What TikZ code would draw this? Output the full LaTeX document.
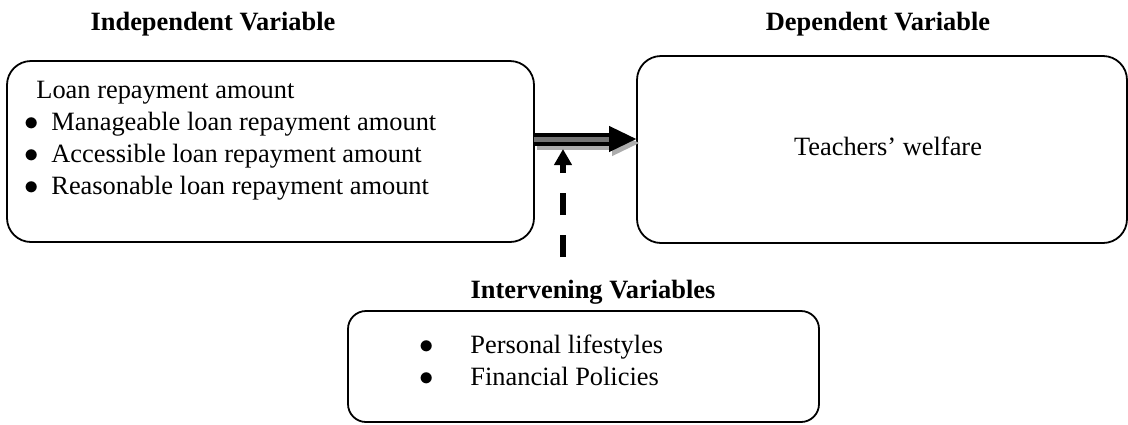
\documentclass[tikz,border=0pt]{standalone}
\usepackage{fontspec}
\setmainfont{Liberation Serif}
\usetikzlibrary{arrows.meta,positioning,calc}
\tikzset{
  box/.style={draw, rounded corners=12pt, line width=0.9pt, inner sep=0pt, outer sep=0pt},
  hdr/.style={font=\fontsize{13.2pt}{16pt}\selectfont\bfseries, inner sep=0pt, anchor=base},
  txt/.style={font=\fontsize{13.2pt}{16pt}\selectfont, inner sep=0pt, anchor=base west},
  bul/.style={font=\fontsize{14.4pt}{16pt}\selectfont, inner sep=0pt, anchor=base west},
  blk/.style={-{Triangle[length=14pt,width=12pt]}, line width=6.5pt},
  dashlink/.style={-{Triangle[length=8pt,width=8.5pt]}, line width=3pt, dash pattern=on 11pt off 10pt},
}

\begin{document}
\begin{tikzpicture}[x=0.5pt,y=-0.5pt]
  \useasboundingbox (0,0) rectangle (1128,424);
  % headings
  \node[hdr] (ivh) at (213,30) {Independent Variable};
  \node[hdr] (dvh) at (878,30) {Dependent Variable};
  \node[hdr] (inh) at (593,298) {Intervening Variables};
  % boxes
  \node[box, minimum width=263.5pt, minimum height=90.5pt] (iv) at (270.5,151.5) {};
  \node[box, minimum width=245pt, minimum height=93.5pt] (dv) at (882,149.5) {};
  \node[box, rounded corners=9pt, minimum width=235.5pt, minimum height=55.5pt] (inv) at (583.5,366.5) {};
  % box text
  \node[txt] (ivt) at (36,98) {Loan repayment amount};
  \foreach \y/\t [count=\i] in {130/Manageable loan repayment amount,
      162/Accessible loan repayment amount, 194/Reasonable loan repayment amount} {
    \node[bul] (ivb\i) at (24,\y) {$\bullet$};
    \node[txt] (ivi\i) at (51,\y) {\t};
  }
  \node[txt, anchor=base] (dvt) at (888,155) {Teachers’ welfare};
  \foreach \y/\t [count=\i] in {353/Personal lifestyles, 385/Financial Policies} {
    \node[bul] (inb\i) at (419,\y) {$\bullet$};
    \node[txt] (ini\i) at (470,\y) {\t};
  }
  % links
  \coordinate (arrs) at ([yshift=6.25pt]iv.east);
  \coordinate (arre) at (arrs -| dv.west);
  \draw[blk, gray!65, transform canvas={shift={(1.5pt,-2pt)}}] (arrs) -- (arre);
  \draw[blk, black] (arrs) -- (arre);
  \draw[black!55, line width=2.5pt] (arrs) -- ([xshift=-14pt]arre);
  \coordinate (tip) at (563,149);
  \coordinate (foot) at (563,257);
  \draw[dashlink] (foot) -- (tip);
\end{tikzpicture}
\end{document}
